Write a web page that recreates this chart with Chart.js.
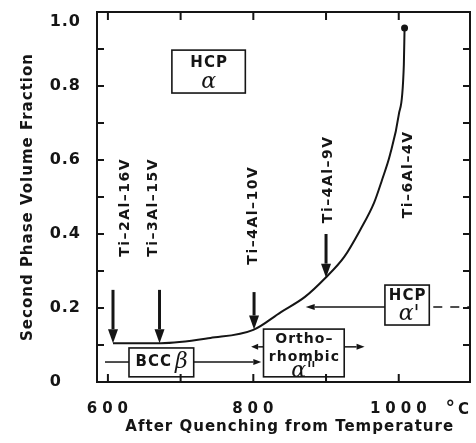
<!DOCTYPE html>
<html>
<head>
<meta charset="utf-8">
<script src="https://cdn.jsdelivr.net/npm/chart.js@4.4.1/dist/chart.umd.min.js"></script>
<style>
  html, body { margin: 0; padding: 0; background: #fff; }
  #wrap { width: 476px; height: 443px; }
</style>
</head>
<body>
<div id="wrap"><canvas id="chart" width="476" height="443"></canvas></div>
<script>
// --- data ---
const tempC    = [607, 673, 741, 800, 838, 871, 899, 925, 947, 966, 977, 988, 1000, 1007, 1008];
const fraction = [0.105, 0.105, 0.119, 0.141, 0.189, 0.23, 0.281, 0.338, 0.411, 0.484, 0.546, 0.614, 0.722, 0.857, 0.957];

const xTickValues = [600, 700, 800, 900, 1000];
const xTickLabels = ['600', '', '800', '', '1000'];
const yTickValues = [0, 0.1, 0.2, 0.3, 0.4, 0.5, 0.6, 0.7, 0.8, 0.9, 1.0];
const yTickLabels = ['0', '', '0.2', '', '0.4', '', '0.6', '', '0.8', '', '1.0'];

// alloys: where each arrow points on the curve
const alloyNames  = ['Ti–2Al–16V', 'Ti–3Al–15V', 'Ti–4Al–10V', 'Ti–4Al–9V', 'Ti–6Al–4V'];
const alloyTemp   = [607, 671, 801, 900, null];
const arrowTop    = [0.249, 0.249, 0.243, 0.40, null];
const arrowTip    = [0.105, 0.105, 0.142, 0.282, null];
const labelTemp   = [624, 663, 800, 903, 1013];
const labelMid    = [0.47, 0.47, 0.449, 0.546, 0.559];

// phase boxes [tMin, tMax, vMin, vMax]
const phaseNames = ['HCP α', 'HCP α′', 'BCC β', 'Ortho– rhombic α″'];
const phaseBoxes = [
  [688, 789, 0.781, 0.897],
  [981, 1042, 0.154, 0.262],
  [629, 718, 0.014, 0.092],
  [814, 925, 0.014, 0.143]
];

const FONT = "'DejaVu Sans', 'Liberation Sans', sans-serif";
const INK = '#151515';

function arrow(ctx, x1, y1, x2, y2, lw, hl, hw) {
  const a = Math.atan2(y2 - y1, x2 - x1);
  const bx = x2 - hl * Math.cos(a), by = y2 - hl * Math.sin(a);
  ctx.lineWidth = lw;
  ctx.beginPath(); ctx.moveTo(x1, y1); ctx.lineTo(bx, by); ctx.stroke();
  ctx.beginPath();
  ctx.moveTo(x2, y2);
  ctx.lineTo(bx + hw / 2 * Math.sin(a), by - hw / 2 * Math.cos(a));
  ctx.lineTo(bx - hw / 2 * Math.sin(a), by + hw / 2 * Math.cos(a));
  ctx.closePath(); ctx.fill();
}

function text(ctx, str, x, y, font, ls) {
  ctx.font = font;
  ctx.letterSpacing = ls + 'px';
  ctx.fillText(str, x + ls / 2, y);
}

const paperPlugin = {
  id: 'paper',
  beforeDraw(chart) {
    const ctx = chart.ctx;
    ctx.save();
    ctx.fillStyle = '#fff';
    ctx.fillRect(0, 0, chart.width, chart.height);
    ctx.restore();
    ctx.letterSpacing = '1px';
  },
  afterDraw(chart) {
    const ctx = chart.ctx;
    const { left, right, top, bottom } = chart.chartArea;
    const xs = chart.scales.x, ys = chart.scales.y;
    const X = v => xs.getPixelForValue(v), Y = v => ys.getPixelForValue(v);
    ctx.save();
    ctx.strokeStyle = INK; ctx.fillStyle = INK;
    ctx.lineCap = 'butt';

    // frame + inward ticks
    ctx.lineWidth = 2;
    ctx.strokeRect(left, top, right - left, bottom - top);
    ctx.beginPath();
    xTickValues.forEach(v => {
      const x = X(v);
      ctx.moveTo(x, top); ctx.lineTo(x, top + 8);
      ctx.moveTo(x, bottom); ctx.lineTo(x, bottom - 8);
    });
    yTickValues.slice(1, -1).forEach(v => {
      const y = Y(v);
      ctx.moveTo(left, y); ctx.lineTo(left + 7, y);
      ctx.moveTo(right, y); ctx.lineTo(right - 7, y);
    });
    ctx.stroke();

    // unit
    ctx.textAlign = 'center'; ctx.textBaseline = 'middle';
    text(ctx, '°', X(1071), bottom + 27, 'bold 19px ' + FONT, 0);
    text(ctx, 'C', X(1089), bottom + 28, 'bold 15px ' + FONT, 0);

    // alloy arrows and labels
    alloyNames.forEach((name, i) => {
      if (alloyTemp[i] !== null) arrow(ctx, X(alloyTemp[i]), Y(arrowTop[i]), X(alloyTemp[i]), Y(arrowTip[i]), 3, 14, 10);
      ctx.save();
      ctx.translate(X(labelTemp[i]), Y(labelMid[i]));
      ctx.rotate(-Math.PI / 2);
      text(ctx, name, 0, 0, 'bold 14px ' + FONT, 1.5);
      ctx.restore();
    });

    // phase boxes
    ctx.lineWidth = 1.6;
    phaseBoxes.forEach(b => {
      ctx.strokeRect(X(b[0]), Y(b[3]), X(b[1]) - X(b[0]), Y(b[2]) - Y(b[3]));
    });
    const cx = b => (X(b[0]) + X(b[1])) / 2;
    const italic = 'italic 22px "DejaVu Serif", serif';
    let b = phaseBoxes[0];
    text(ctx, 'HCP', cx(b), Y(b[3]) + 13, 'bold 15px ' + FONT, 1);
    text(ctx, 'α', cx(b), Y(b[3]) + 32, italic, 0);
    b = phaseBoxes[1];
    text(ctx, 'HCP', cx(b), Y(b[3]) + 11, 'bold 15px ' + FONT, 1);
    text(ctx, 'α\'', cx(b) + 2, Y(b[3]) + 29, italic, 0);
    b = phaseBoxes[2];
    ctx.textAlign = 'left';
    text(ctx, 'BCC', X(b[0]) + 6, (Y(b[2]) + Y(b[3])) / 2, 'bold 15px ' + FONT, 1);
    text(ctx, 'β', X(b[0]) + 46, (Y(b[2]) + Y(b[3])) / 2, italic, 0);
    ctx.textAlign = 'center';
    b = phaseBoxes[3];
    text(ctx, 'Ortho–', cx(b), Y(b[3]) + 10, 'bold 14px ' + FONT, 1);
    text(ctx, 'rhombic', cx(b), Y(b[3]) + 28, 'bold 14px ' + FONT, 1);
    text(ctx, 'α"', cx(b), Y(b[3]) + 42, italic, 0);

    // connecting lines and arrows
    ctx.lineWidth = 1.5;
    ctx.beginPath();
    ctx.moveTo(X(596), Y(0.054)); ctx.lineTo(X(629), Y(0.054));
    ctx.stroke();
    arrow(ctx, X(718), Y(0.054), X(811), Y(0.054), 1.5, 8, 6);
    arrow(ctx, X(814), Y(0.095), X(797), Y(0.095), 1.5, 7, 6);
    arrow(ctx, X(925), Y(0.095), X(953), Y(0.095), 1.5, 8, 6);
    arrow(ctx, X(981), Y(0.203), X(872), Y(0.203), 1.5, 9, 6);
    ctx.setLineDash([9, 8]);
    ctx.beginPath();
    ctx.moveTo(X(1042) + 4, Y(0.203)); ctx.lineTo(right, Y(0.203));
    ctx.stroke();
    ctx.restore();
  }
};

new Chart(document.getElementById('chart'), {
  type: 'line',
  data: {
    datasets: [{
      data: tempC.map((t, i) => ({ x: t, y: fraction[i] })),
      borderColor: INK,
      backgroundColor: INK,
      borderWidth: 2,
      cubicInterpolationMode: 'monotone',
      pointRadius: ctx => ctx.dataIndex === tempC.length - 1 ? 2.5 : 0,
      fill: false
    }]
  },
  options: {
    responsive: false,
    animation: false,
    devicePixelRatio: 1,
    layout: { padding: { top: 12, right: 2, left: 0, bottom: 0 } },
    plugins: { legend: { display: false }, tooltip: { enabled: false } },
    scales: {
      x: {
        type: 'linear', min: 585, max: 1098,
        afterBuildTicks: s => { s.ticks = xTickValues.map(v => ({ value: v })); },
        afterFit: s => { s.height = 61; s.paddingLeft = 0; s.paddingRight = 0; },
        grid: { display: false, drawTicks: false },
        border: { display: false },
        ticks: {
          color: INK, padding: 18, maxRotation: 0, autoSkip: false,
          font: { family: FONT, size: 15, weight: 'bold' },
          callback: v => (xTickLabels[xTickValues.indexOf(v)] || '').split('').join('\u2009')
        },
        title: {
          display: true, text: '  After Quenching from Temperature', color: INK,
          font: { family: FONT, size: 15, weight: 'bold' },
          padding: { top: 0, bottom: 7 }
        }
      },
      y: {
        min: 0, max: 1,
        afterBuildTicks: s => { s.ticks = yTickValues.map(v => ({ value: v })); },
        afterFit: s => { s.width = 97; s.paddingTop = 0; s.paddingBottom = 0; },
        grid: { display: false, drawTicks: false },
        border: { display: false },
        ticks: {
          color: INK, padding: 16,
          font: { family: FONT, size: 16, weight: 'bold' },
          callback: (v, i) => {
            const l = yTickLabels[yTickValues.indexOf(v)] || '';
            if (l === '0') return '0\u2008\u2007';
            if (v === 1) return ['', l];
            return l;
          }
        },
        title: {
          display: true, text: 'Second Phase Volume Fraction', color: INK,
          font: { family: FONT, size: 15, weight: 'bold' },
          padding: { top: 19, bottom: 0 }
        }
      }
    }
  },
  plugins: [paperPlugin]
});
</script>
</body>
</html>
